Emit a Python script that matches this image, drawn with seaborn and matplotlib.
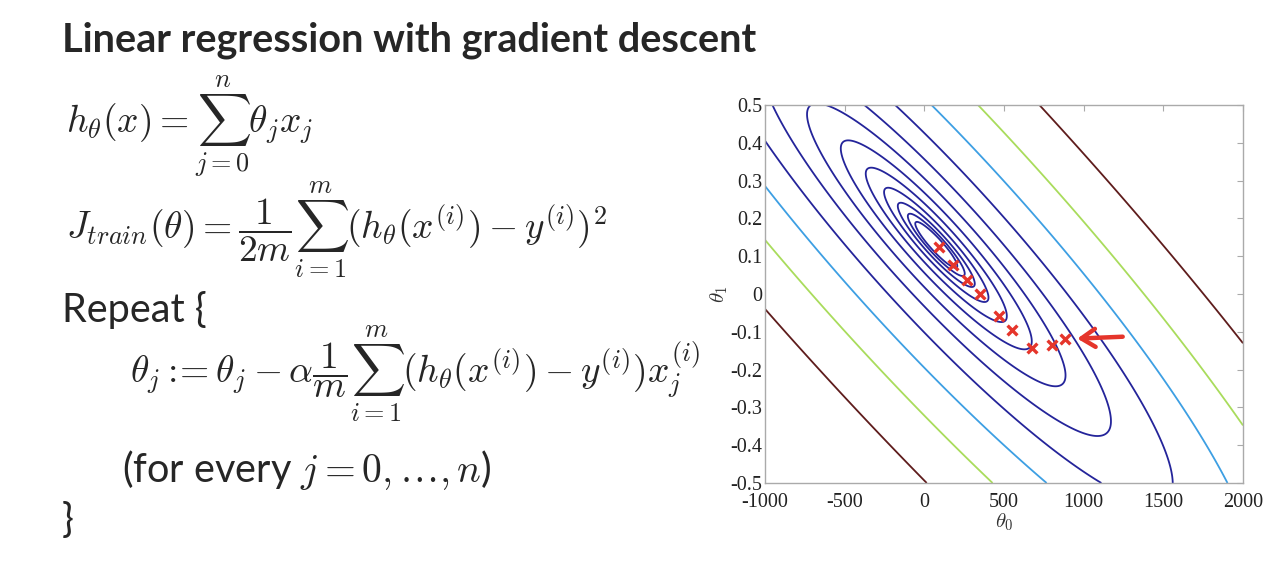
import numpy as np
import matplotlib
matplotlib.use("Agg")
import matplotlib.pyplot as plt
import seaborn as sns
import pandas as pd

# ---------------- data ----------------
# gradient-descent iterates (theta0, theta1)
path_theta0 = [885, 802, 677, 552, 469, 348, 269, 183, 90]
path_theta1 = [-0.118, -0.135, -0.142, -0.094, -0.058, 0.0, 0.038, 0.078, 0.124]

# quadratic cost surface parameters (minimum, valley slope, spread)
cost_center = [75.0, 0.13]
cost_xbar = 2000.0
cost_sigma2 = 7.0e5
# contour levels of the cost (innermost first) and their colours
cost_levels = [2.6e3, 4.76e3, 8.7e3, 1.6e4, 2.92e4, 5.35e4, 9.8e4, 1.79e5,
               3.28e5, 6.0e5, 1.10e6, 2.02e6]
level_colors = ["#24249a"] * 9 + ["#3d9fe3", "#a9dc5c", "#5e1c1c"]

x_ticks = [-1000, -500, 0, 500, 1000, 1500, 2000]
y_ticks = [-0.5, -0.4, -0.3, -0.2, -0.1, 0, 0.1, 0.2, 0.3, 0.4, 0.5]
y_ticklabels = ["-0.5", "-0.4", "-0.3", "-0.2", "-0.1", "0", "0.1", "0.2", "0.3", "0.4", "0.5"]
arrow_from = [1245, -0.113]
arrow_to = [960, -0.118]

title_text = "Linear regression with gradient descent"

# ---------------- style ----------------
sns.set_style("white")
plt.rcParams["mathtext.fontset"] = "cm"
plt.rcParams["font.family"] = ["Lato", "DejaVu Sans"]

fig = plt.figure(figsize=(12.8, 5.79), dpi=100)
fig.patch.set_facecolor("white")

ax = fig.add_axes([765 / 1280, 1 - 483 / 579, 478 / 1280, 378 / 579])

t0 = np.linspace(-1000, 2000, 500)
t1 = np.linspace(-0.5, 0.5, 500)
T0, T1 = np.meshgrid(t0, t1)
d0 = T0 - cost_center[0]
d1 = T1 - cost_center[1]
J = (d0 + cost_xbar * d1) ** 2 + cost_sigma2 * d1 ** 2

ax.contour(T0, T1, J, levels=cost_levels, colors=level_colors, linewidths=1.3)

df = pd.DataFrame({"theta0": path_theta0, "theta1": path_theta1})
sns.scatterplot(data=df, x="theta0", y="theta1", marker="x", color="#e5352b",
                s=50, linewidth=2.4, ax=ax, zorder=5)

ax.annotate("", xy=arrow_to, xytext=arrow_from,
            arrowprops=dict(arrowstyle="->,head_length=1.0,head_width=0.65",
                            color="#e5352b", lw=3.2, shrinkA=0, shrinkB=0))

ax.set_xlim(-1000, 2000)
ax.set_ylim(-0.5, 0.5)
ax.set_xticks(x_ticks)
ax.set_xticklabels([str(v) for v in x_ticks], family="Liberation Serif", fontsize=14.5)
ax.set_yticks(y_ticks)
ax.set_yticklabels(y_ticklabels, family="Liberation Serif", fontsize=14.5)
ax.tick_params(axis="x", pad=7)
ax.tick_params(axis="y", pad=2)
ax.tick_params(direction="in", length=4, top=True, right=True, color="#aaaaaa",
               labelcolor="#222222")
for sp in ax.spines.values():
    sp.set_color("#aaaaaa")
    sp.set_linewidth(1.0)
ax.set_xlabel(r"$\theta_0$", fontsize=15, labelpad=0, color="#333333")
ax.set_ylabel(r"$\theta_1$", fontsize=15, labelpad=0, color="#333333")

# ---------------- slide text ----------------
txt_fs = 28.5
eq_fs = 27
fig.text(62 / 1280, 1 - 40 / 579, title_text, fontsize=txt_fs, fontweight="bold",
         family=["Lato", "DejaVu Sans"], va="center", ha="left")

fig.text(66 / 1280, 1 - 127 / 579, r"$h_\theta(x) = \sum_{j=0}^{n}\theta_j x_j$",
         fontsize=eq_fs, va="center", ha="left")
fig.text(66 / 1280, 1 - 230 / 579,
         r"$J_{train}(\theta) = \dfrac{1}{2m}\sum_{i=1}^{m}(h_\theta(x^{(i)}) - y^{(i)})^2$",
         fontsize=eq_fs, va="center", ha="left")
fig.text(62 / 1280, 1 - 310 / 579, "Repeat {", fontsize=txt_fs,
         va="center", ha="left")
fig.text(130 / 1280, 1 - 374 / 579,
         r"$\theta_j :\!\!= \theta_j - \alpha\dfrac{1}{m}\sum_{i=1}^{m}(h_\theta(x^{(i)}) - y^{(i)})x_j^{(i)}$",
         fontsize=eq_fs, va="center", ha="left")
fig.text(122 / 1280, 1 - 470 / 579, r"(for every $j = 0,\ldots,n$)", fontsize=txt_fs,
         va="center", ha="left")
fig.text(62 / 1280, 1 - 520 / 579, "}", fontsize=txt_fs, va="center", ha="left")

fig.savefig("out.png", dpi=100, facecolor="white")
